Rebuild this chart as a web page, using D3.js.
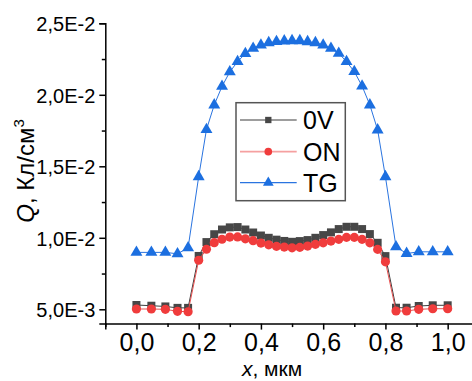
<!DOCTYPE html>
<html>
<head>
<meta charset="utf-8">
<script src="https://cdn.jsdelivr.net/npm/d3@7/dist/d3.min.js"></script>
<style>
  html, body { margin: 0; padding: 0; background: #fff; }
  svg { display: block; font-family: "Liberation Sans", Arial, sans-serif; }
</style>
</head>
<body>
<svg id="chart" width="472" height="381"></svg>
<script>
// Coordinate along the structure, µm
const xPos = [
  0, 0.048, 0.093, 0.132, 0.166,
  0.2, 0.225, 0.25, 0.275, 0.3, 0.325, 0.35, 0.375, 0.4, 0.425, 0.45, 0.475, 0.5,
  0.525, 0.55, 0.575, 0.6, 0.625, 0.65, 0.675, 0.7, 0.725, 0.75, 0.775, 0.8,
  0.834, 0.868, 0.907, 0.952, 1.0
];

// Charge density, C/cm^3
const q0V = [
  0.0053, 0.00525, 0.0052, 0.0051, 0.0051,
  0.00873, 0.0097, 0.01025, 0.01058, 0.01073, 0.01075, 0.01058, 0.01037, 0.01016, 0.01, 0.00987, 0.00978, 0.00972,
  0.00977, 0.00984, 0.01, 0.01019, 0.01038, 0.01061, 0.01077, 0.01077, 0.01061, 0.01026, 0.00965, 0.00872,
  0.00511, 0.00511, 0.00523, 0.00528, 0.00528
];
const qON = [
  0.00502, 0.00502, 0.005, 0.00486, 0.00483,
  0.00843, 0.0092, 0.00966, 0.0099, 0.01005, 0.01006, 0.00993, 0.0098, 0.00963, 0.00951, 0.0094, 0.00935, 0.0093,
  0.00933, 0.00942, 0.00954, 0.00965, 0.00977, 0.00989, 0.01003, 0.01003, 0.00989, 0.00965, 0.00919, 0.00832,
  0.00488, 0.00488, 0.005, 0.00504, 0.00504
];
const qTG = [
  0.00898, 0.00898, 0.00898, 0.00888, 0.0093,
  0.01427, 0.01757, 0.01929, 0.02059, 0.0216, 0.02232, 0.02288, 0.02325, 0.02348, 0.02364, 0.02372, 0.02376, 0.02378,
  0.02378, 0.02371, 0.02364, 0.02348, 0.02325, 0.0229, 0.02232, 0.02162, 0.02061, 0.01929, 0.01754, 0.01427,
  0.00937, 0.0089, 0.00902, 0.00902, 0.00902
];

const seriesNames = ["0V", "ON", "TG"];
const xTicks = [0, 0.2, 0.4, 0.6, 0.8, 1.0];
const xMinorTicks = [-0.1, 0.1, 0.3, 0.5, 0.7, 0.9];
const yTicks = [0.005, 0.01, 0.015, 0.02, 0.025];
const yMinorTicks = [0.0075, 0.0125, 0.0175, 0.0225];
const yTickLabels = ["5,0E-3", "1,0E-2", "1,5E-2", "2,0E-2", "2,5E-2"];
const xTickLabels = ["0,0", "0,2", "0,4", "0,6", "0,8", "1,0"];

const svg = d3.select("#chart");

const x = d3.scaleLinear().domain([-0.1, 1.1]).range([105.3, 478.8]);
const y = d3.scaleLinear().domain([0.004, 0.025]).range([323.6, 23.3]);

const axisColor = "#000";

// Left axis
const yAxis = d3.axisLeft(y).tickValues(yTicks).tickSize(6)
  .tickFormat((d, i) => yTickLabels[i]);
const gy = svg.append("g").attr("transform", `translate(${x(-0.1)},0)`).call(yAxis);
gy.select(".domain").attr("stroke", axisColor).attr("stroke-width", 1.5);
gy.selectAll(".tick line").attr("stroke", axisColor).attr("stroke-width", 1.5);
gy.selectAll(".tick text").attr("font-size", 20).attr("fill", "#000").attr("x", -10).attr("dy", "0.36em");
const gyMinor = svg.append("g").attr("transform", `translate(${x(-0.1)},0)`)
  .call(d3.axisLeft(y).tickValues(yMinorTicks).tickSize(3.5).tickFormat(""));
gyMinor.select(".domain").remove();
gyMinor.selectAll(".tick line").attr("stroke", axisColor).attr("stroke-width", 1.5);

// Bottom axis
const xAxis = d3.axisBottom(x).tickValues(xTicks).tickSize(6)
  .tickFormat((d, i) => xTickLabels[i]);
const gx = svg.append("g").attr("transform", `translate(0,${y(0.004)})`).call(xAxis);
gx.select(".domain").attr("stroke", axisColor).attr("stroke-width", 1.5);
gx.selectAll(".tick line").attr("stroke", axisColor).attr("stroke-width", 1.5);
gx.selectAll(".tick text").attr("font-size", 25).attr("fill", "#000").attr("y", 10).attr("dy", "0.71em");
const gxMinor = svg.append("g").attr("transform", `translate(0,${y(0.004)})`)
  .call(d3.axisBottom(x).tickValues(xMinorTicks).tickSize(3.5).tickFormat(""));
gxMinor.select(".domain").remove();
gxMinor.selectAll(".tick line").attr("stroke", axisColor).attr("stroke-width", 1.5);

// Series
const styles = {
  "0V": { line: "#3c3c3c", fill: "#474747", sym: d3.symbolSquare, size: 64, lw: 1 },
  "ON": { line: "#e85050", fill: "#f03c3c", sym: d3.symbolCircle, size: 66, lw: 1 },
  "TG": { line: "#2a74e0", fill: "#1c6fe0", sym: d3.symbolTriangle, size: 62, lw: 1 }
};
const legendLine = { "0V": "#3c3c3c", "ON": "#f5a0a0", "TG": "#2a74e0" };
const series = { "0V": q0V, "ON": qON, "TG": qTG };

const lineGen = d3.line().x(d => x(d[0])).y(d => y(d[1]));

seriesNames.forEach(name => {
  const st = styles[name];
  const pts = xPos.map((xv, i) => [xv, series[name][i]]);
  svg.append("path").datum(pts)
    .attr("d", lineGen).attr("fill", "none")
    .attr("stroke", st.line).attr("stroke-width", st.lw);
  svg.append("g").selectAll("path").data(pts).join("path")
    .attr("transform", d => `translate(${x(d[0])},${y(d[1])})`)
    .attr("d", d3.symbol().type(st.sym).size(st.size))
    .attr("fill", st.fill);
});

// Legend
const lg = svg.append("g");
lg.append("rect").attr("x", 236).attr("y", 102.7).attr("width", 109.3).attr("height", 98)
  .attr("fill", "#fff").attr("stroke", "#555").attr("stroke-width", 1.5);
const legendY = [120, 151.7, 182.7];
const legendSize = { "0V": 40, "ON": 46, "TG": 50 };
seriesNames.forEach((name, i) => {
  const st = styles[name];
  const ly = legendY[i];
  lg.append("line").attr("x1", 240).attr("x2", 296.7).attr("y1", ly).attr("y2", ly)
    .attr("stroke", legendLine[name]).attr("stroke-width", name === "ON" ? 1.8 : 1.2);
  lg.append("path").attr("transform", `translate(268.3,${ly})`)
    .attr("d", d3.symbol().type(st.sym).size(legendSize[name])).attr("fill", st.fill);
  lg.append("text").attr("x", 303).attr("y", ly + 9.3).attr("font-size", 25).attr("fill", "#000")
    .text(name);
});

// Axis titles
const yt = svg.append("text")
  .attr("transform", "translate(33.5,171) rotate(-90)")
  .attr("text-anchor", "middle").attr("font-size", 24).attr("fill", "#000");
yt.append("tspan").attr("font-style", "italic").text("Q");
yt.append("tspan").text(", Кл/см");
yt.append("tspan").attr("font-size", 15).attr("dy", -10).text("3");

const xt = svg.append("text").attr("x", 272).attr("y", 376)
  .attr("text-anchor", "middle").attr("font-size", 21).attr("fill", "#000");
xt.append("tspan").attr("font-style", "italic").text("x");
xt.append("tspan").text(", мкм");
</script>
</body>
</html>
